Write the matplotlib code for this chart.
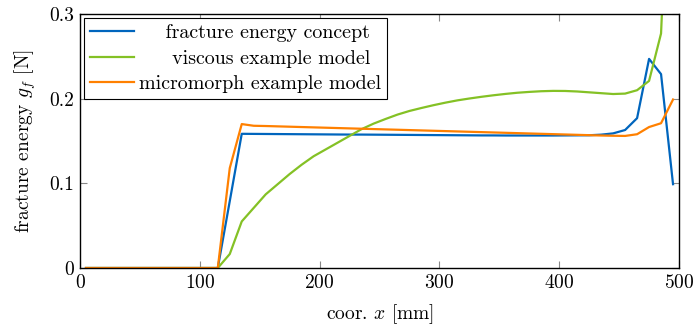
import numpy as np
import matplotlib
matplotlib.use("Agg")
import matplotlib.pyplot as plt

plt.rcParams["font.family"] = "cmr10"
plt.rcParams["mathtext.fontset"] = "cm"
plt.rcParams["axes.formatter.use_mathtext"] = True
plt.rcParams["font.size"] = 14.4

# x positions of the evaluation points [mm]
coor = [5, 15, 25, 35, 45, 55, 65, 75, 85, 95, 105, 115,
        125, 135, 145, 155, 165, 175, 185, 195, 205, 215,
        225, 235, 245, 255, 265, 275, 285, 295, 305, 315,
        325, 335, 345, 355, 365, 375, 385, 395, 405, 415,
        425, 435, 445, 455, 465, 475, 485, 495]

zeros = [0.0] * 12

g_concept = zeros + [
    0.079, 0.1585, 0.1584, 0.1583, 0.1582, 0.1581, 0.1580, 0.1579, 0.1578, 0.1577,
    0.1576, 0.1576, 0.1575, 0.1574, 0.1573, 0.1572, 0.1571, 0.1570, 0.1569, 0.1568,
    0.1567, 0.1566, 0.1566, 0.1565, 0.1565, 0.1565, 0.1565, 0.1565, 0.1566, 0.1567,
    0.1568, 0.1575, 0.159, 0.163, 0.177, 0.247, 0.229, 0.099]

g_viscous = zeros + [
    0.0165, 0.055, 0.071, 0.087, 0.099, 0.111, 0.122, 0.132, 0.140, 0.148,
    0.156, 0.164, 0.1705, 0.176, 0.1812, 0.1855, 0.189, 0.1923, 0.1953, 0.198,
    0.2002, 0.2022, 0.204, 0.2056, 0.207, 0.208, 0.2088, 0.2092, 0.2091, 0.2085,
    0.2075, 0.2065, 0.2055, 0.206, 0.210, 0.221, 0.277, 0.60]

g_micromorph = zeros + [
    0.118, 0.170, 0.168, 0.1677, 0.1673, 0.1669, 0.1665, 0.1661, 0.1657, 0.1653,
    0.1649, 0.1645, 0.1641, 0.1637, 0.1633, 0.1629, 0.1625, 0.1621, 0.1617, 0.1613,
    0.1609, 0.1605, 0.1601, 0.1597, 0.1593, 0.1589, 0.1585, 0.1581, 0.1577, 0.1573,
    0.1569, 0.1565, 0.1562, 0.1560, 0.1580, 0.1665, 0.171, 0.199]

labels = ["    fracture energy concept",
          "     viscous example model",
          "micromorph example model"]
colors = ["#0065bd", "#84c125", "#ff8000"]

fig = plt.figure(figsize=(6.97, 3.29), dpi=100)
ax = fig.add_axes([0.1148, 0.1854, 0.8594, 0.772])

for ys, lab, c in zip([g_concept, g_viscous, g_micromorph], labels, colors):
    ax.plot(coor, ys, color=c, lw=1.6, label=lab)

ax.set_xlim(0, 500)
ax.set_ylim(0, 0.3)
ax.set_xticks([0, 100, 200, 300, 400, 500])
ax.set_yticks([0, 0.1, 0.2, 0.3])
ax.set_yticklabels(["0", "0.1", "0.2", "0.3"])
ax.tick_params(direction="in", top=True, right=True, length=5, width=0.8,
               color="#888888", labelsize=14, pad=4)
for s in ax.spines.values():
    s.set_linewidth(1.0)

ax.set_xlabel("coor. $x$ [mm]", fontsize=14, labelpad=8)
ax.set_ylabel("fracture energy $g_f$ [N]", fontsize=14, labelpad=8)

leg = ax.legend(loc="upper left", fontsize=14.4, fancybox=False, framealpha=1,
                edgecolor="black", borderaxespad=0.2, handlelength=2.2,
                handletextpad=0.25, labelspacing=0.38, borderpad=0.3)
leg.get_frame().set_linewidth(0.8)

fig.savefig("out.png", dpi=100)
